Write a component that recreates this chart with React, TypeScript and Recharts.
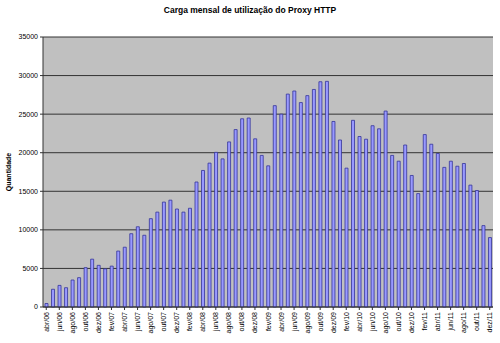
import React from "react";
import { BarChart, Bar, XAxis, YAxis, CartesianGrid } from "recharts";

const months = [
  "abr/06","mai/06","jun/06","jul/06","ago/06","set/06","out/06","nov/06","dez/06",
  "jan/07","fev/07","mar/07","abr/07","mai/07","jun/07","jul/07","ago/07","set/07","out/07","nov/07","dez/07",
  "jan/08","fev/08","mar/08","abr/08","mai/08","jun/08","jul/08","ago/08","set/08","out/08","nov/08","dez/08",
  "jan/09","fev/09","mar/09","abr/09","mai/09","jun/09","jul/09","ago/09","set/09","out/09","nov/09","dez/09",
  "jan/10","fev/10","mar/10","abr/10","mai/10","jun/10","jul/10","ago/10","set/10","out/10","nov/10","dez/10",
  "jan/11","fev/11","mar/11","abr/11","mai/11","jun/11","jul/11","ago/11","set/11","out/11","nov/11","dez/11",
];

const quantidade = [
  450, 2300, 2800, 2500, 3500, 3800, 5100, 6200, 5400,
  4950, 5300, 7250, 7750, 9500, 10400, 9300, 11450, 12300, 13600, 13850, 12700,
  12300, 12800, 16200, 17700, 18650, 20050, 19200, 21400, 23000, 24400, 24500, 21800,
  19650, 18300, 26100, 25000, 27600, 28000, 26500, 27400, 28200, 29200, 29250, 24050,
  21650, 18000, 24200, 22100, 21750, 23500, 23100, 25400, 19650, 18900, 21000, 17050,
  14700, 22350, 21100, 19900, 18100, 18900, 18250, 18600, 15800, 15100, 10550, 9000,
];

const yTicks = [0, 5000, 10000, 15000, 20000, 25000, 30000, 35000];

const data = months.map((m, i) => ({ month: m, value: quantidade[i] }));

const FONT = "'Liberation Sans', Arial, sans-serif";

const XTick = (props: any) => {
  const { x, y, payload } = props;
  return (
    <text
      x={x}
      y={y}
      dy={2.5}
      transform={`rotate(-90, ${x}, ${y})`}
      textAnchor="end"
      fontSize={7}
      fontFamily={FONT}
      fill="#000"
    >
      {payload.value}
    </text>
  );
};

export default function App() {
  return (
    <div style={{ position: "absolute", left: 0, top: 0, width: 500, height: 343, background: "#fff" }}>
      <div
        style={{
          position: "absolute",
          top: 5,
          left: 0,
          width: 500,
          textAlign: "center",
          fontFamily: FONT,
          fontWeight: "bold",
          fontSize: 8.5,
        }}
      >
        Carga mensal de utilização do Proxy HTTP
      </div>
      <div
        style={{
          position: "absolute",
          left: 8,
          top: 172,
          transform: "translate(-50%, -50%) rotate(-90deg)",
          fontFamily: FONT,
          fontWeight: "bold",
          fontSize: 7,
          whiteSpace: "nowrap",
        }}
      >
        Quantidade
      </div>
      <BarChart
        width={500}
        height={343}
        data={data}
        margin={{ top: 37, right: 7, bottom: 0, left: 0 }}
        barCategoryGap={0}
      >
        <CartesianGrid
          vertical={false}
          fill="#C0C0C0"
          stroke="#333"
          strokeWidth={1}
        />
        <XAxis
          dataKey="month"
          interval={1}
          tick={<XTick />}
          tickLine={{ stroke: "#333" }}
          tickSize={3}
          axisLine={{ stroke: "#333" }}
          height={36}
        />
        <YAxis
          domain={[0, 35000]}
          ticks={yTicks}
          width={43}
          tick={{ fontSize: 7, fontFamily: FONT, fill: "#000" }}
          tickLine={{ stroke: "#333" }}
          tickSize={3}
          axisLine={{ stroke: "#333" }}
        />
        <Bar
          dataKey="value"
          fill="#9999FF"
          stroke="#333399"
          strokeWidth={0.8}
          barSize={3}
          isAnimationActive={false}
        />
      </BarChart>
    </div>
  );
}
